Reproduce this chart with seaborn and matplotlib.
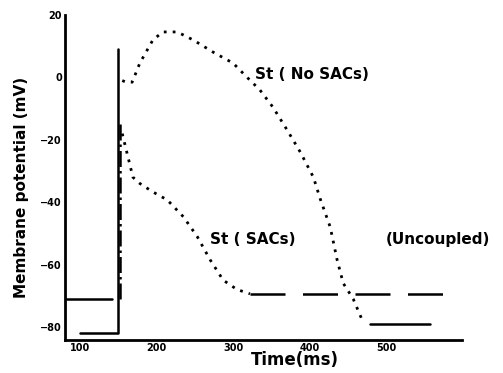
import matplotlib
matplotlib.use('Agg')
import matplotlib.pyplot as plt
import seaborn as sns

# 数据：近似值
# St (No SACs)
nosac_rest_t = [100, 148]
nosac_rest_v = [-82, -82]
nosac_up_t = [149, 149]
nosac_up_v = [-82, 9]
nosac_t = [155, 160, 168, 178, 195, 208, 227, 248, 274, 300, 318, 335, 352,
           371, 388, 405, 414, 427, 436, 444, 457, 470]
nosac_v = [-1, -1.5, -1.5, 4.6, 12, 14.6, 14.6, 12, 8.1, 4.6, 0.1, -4, -9.5,
           -17, -24, -32, -39, -48, -58.5, -66, -71, -78.5]
nosac_end_t = [479, 557]
nosac_end_v = [-79, -79]

# St (SACs)
sac_rest_t = [80, 142]
sac_rest_v = [-71, -71]
sac_up_t = [152, 152]
sac_up_v = [-71, -14]
sac_t = [155, 161, 169, 178, 195, 214, 235, 253, 270, 287, 305, 322]
sac_v = [-18, -24, -32, -34, -36.7, -39.3, -44.7, -51, -58.5, -65, -68, -69.4]
sac_end_t = [322, 595]
sac_end_v = [-69.5, -69.5]

x_ticks = [100, 200, 300, 400, 500]
y_ticks = [20, 0, -20, -40, -60, -80]

sns.set_style('white')
plt.rcParams['font.family'] = ['DejaVu Sans']
plt.rcParams['font.weight'] = 'bold'
plt.rcParams['text.color'] = 'black'
plt.rcParams['axes.labelcolor'] = 'black'
plt.rcParams['xtick.color'] = 'black'
plt.rcParams['ytick.color'] = 'black'

fig = plt.figure(figsize=(5.03, 3.73), dpi=100)
ax = fig.add_axes([0.129, 0.0885, 0.789, 0.871])

k = dict(ax=ax, color='black', legend=False, estimator=None, sort=False)
sns.lineplot(x=nosac_rest_t, y=nosac_rest_v, linewidth=1.8, **k)
sns.lineplot(x=nosac_up_t, y=nosac_up_v, linewidth=1.8, **k)
sns.lineplot(x=nosac_t, y=nosac_v, linewidth=2, linestyle=(0, (1, 2.2)), **k)
sns.lineplot(x=nosac_end_t, y=nosac_end_v, linewidth=1.8, **k)

sns.lineplot(x=sac_rest_t, y=sac_rest_v, linewidth=1.8, **k)
sns.lineplot(x=sac_up_t, y=sac_up_v, linewidth=1.8, linestyle='-.', **k)
sns.lineplot(x=sac_t, y=sac_v, linewidth=2, linestyle=(0, (1, 2.2)), **k)
sns.lineplot(x=sac_end_t, y=sac_end_v, linewidth=1.8, linestyle=(0, (14, 7)), **k)

ax.set_xlim(80, 599)
ax.set_ylim(-84.2, 20)
ax.set_xticks(x_ticks)
ax.set_yticks(y_ticks)
ax.tick_params(labelsize=7, length=0, pad=2)
for s in ['top', 'right']:
    ax.spines[s].set_visible(False)
for s in ['left', 'bottom']:
    ax.spines[s].set_color('black')
    ax.spines[s].set_linewidth(2)

ax.set_xlabel('Time(ms)', fontsize=12, fontweight='bold')
ax.set_ylabel('Membrane potential (mV)', fontsize=11, fontweight='bold')
ax.xaxis.set_label_coords(0.58, -0.035)
ax.yaxis.set_label_coords(-0.09, 0.47)

ax.text(329, 1, 'St ( No SACs)', fontsize=11, fontweight='bold', va='center')
ax.text(270, -52, 'St ( SACs)', fontsize=11, fontweight='bold', va='center')
ax.text(499, -52, '(Uncoupled)', fontsize=11, fontweight='bold', va='center', clip_on=False)

fig.savefig('out.png', dpi=100)
